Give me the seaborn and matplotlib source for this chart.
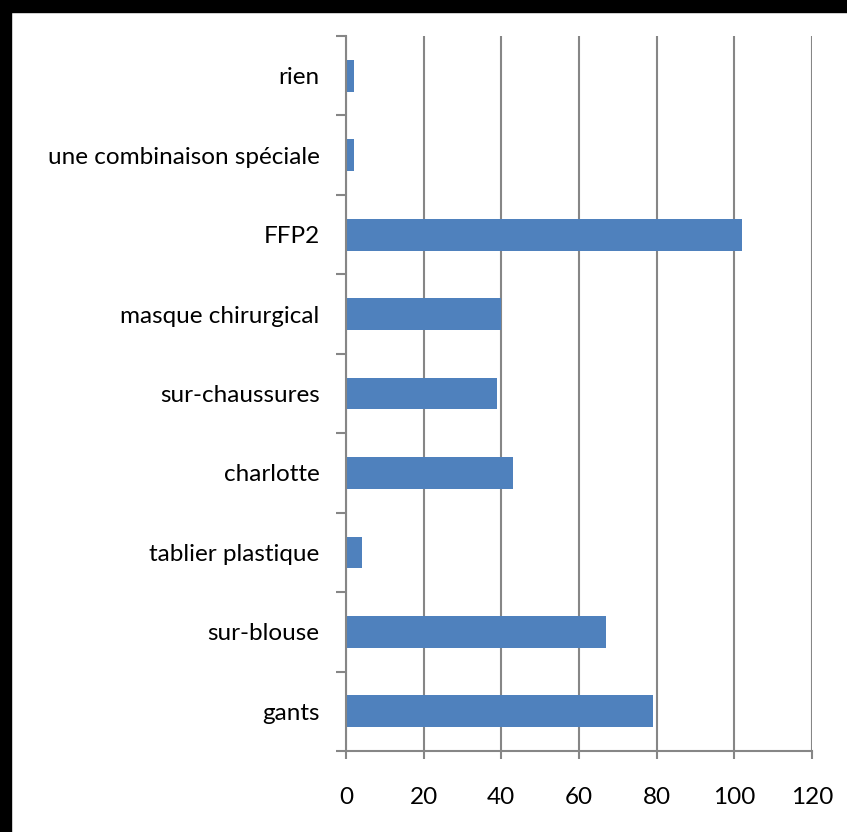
import matplotlib
matplotlib.use("Agg")
import matplotlib.pyplot as plt
import seaborn as sns
import pandas as pd
import numpy as np
from matplotlib.patches import Rectangle
from matplotlib.ticker import FixedLocator

categories = ["rien", "une combinaison spéciale", "FFP2", "masque chirurgical",
              "sur-chaussures", "charlotte", "tablier plastique", "sur-blouse", "gants"]
values = [2, 2, 102, 40, 39, 43, 4, 67, 79]
xticks = [0, 20, 40, 60, 80, 100, 120]

sns.set_theme(style="white")
plt.rcParams['font.family'] = ['Lato', 'DejaVu Sans']

df = pd.DataFrame({"cat": categories, "val": values})

fig = plt.figure(figsize=(8.47, 8.32), dpi=100)
ax = fig.add_axes([346/847, 1-751/832, (812-346)/847, (751-36)/832])

sns.barplot(data=df, y="cat", x="val", orient="h", color="#4F81BD",
            saturation=1, width=0.4, ax=ax, zorder=3, linewidth=0, edgecolor="none")

grey = "#868686"
ax.set_xlim(0, 120)
ax.set_ylim(len(categories)-0.5, -0.5)
ax.set_xticks(xticks)
ax.set_xticklabels([str(t) for t in xticks])
ax.xaxis.grid(True, color=grey, linewidth=1.5, zorder=0)
ax.set_axisbelow(True)
ax.set_xlabel("")
ax.set_ylabel("")

for s in ["top", "right"]:
    ax.spines[s].set_visible(False)
for s in ["left", "bottom"]:
    ax.spines[s].set_color(grey)
    ax.spines[s].set_linewidth(1.5)
    ax.spines[s].set_zorder(4)

ax.tick_params(axis="y", which="major", length=0, pad=19, labelsize=17.5, labelcolor="black")
ax.yaxis.set_minor_locator(FixedLocator(np.arange(-0.5, len(categories), 1.0)))
ax.tick_params(axis="y", which="minor", length=7, width=1.5, color=grey, left=True)
ax.tick_params(axis="x", which="major", length=6, width=1.5, color=grey, bottom=True,
               pad=20, labelsize=17.5, labelcolor="black")

fig.add_artist(Rectangle((0, 1-12/832), 1, 12/832, transform=fig.transFigure,
                         color="black", zorder=10))
fig.add_artist(Rectangle((0, 0), 11/847, 1, transform=fig.transFigure,
                         color="black", zorder=10))

fig.savefig("out.png", dpi=100)
